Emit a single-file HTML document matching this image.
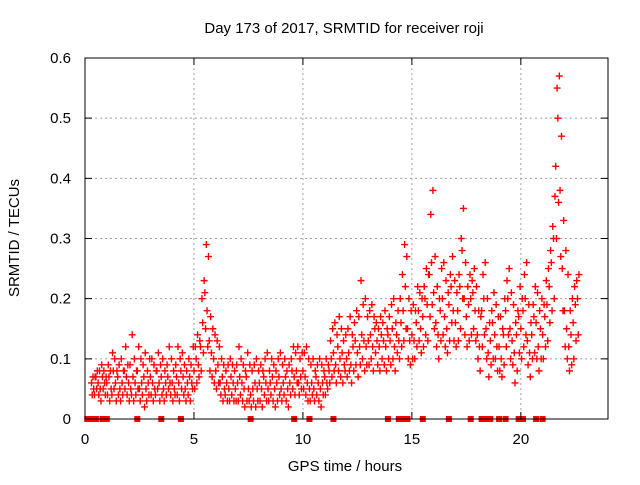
<!DOCTYPE html>
<html><head><meta charset="utf-8"><style>
body{margin:0;background:#fff}
svg text{font-family:"Liberation Sans",sans-serif;font-size:15px;fill:#000}
</style></head><body>
<svg id="chart" width="640" height="480" viewBox="0 0 640 480" xmlns="http://www.w3.org/2000/svg">
<rect width="640" height="480" fill="#fff"/>
<text x="344" y="33" text-anchor="middle">Day 173 of 2017, SRMTID for receiver roji</text>
<text transform="translate(19,238) rotate(-90)" text-anchor="middle">SRMTID / TECUs</text>
<text x="345" y="471" text-anchor="middle">GPS time / hours</text>
<g id="grid"></g><g id="marks"></g><g id="axes"></g>
</svg>
<script>
const xTicks=[0,5,10,15,20];
const yTicks=[0,0.1,0.2,0.3,0.4,0.5,0.6];
const yTickLabels=["0","0.1","0.2","0.3","0.4","0.5","0.6"];
const hours=[0,1,2,3,4,5,6,7,8,9,10,11,12,13,14,15,16,17,18,19,20,21,22];
const seriesA=[
[null,null,null,.06,.05,.07,.06,.05,.07,.06],[.06,.07,.05,.08,.06,.07,.05,.06,.08,.07],[.06,.05,.07,.06,.08,.05,.06,.07,.05,.06],
[.07,.06,.05,.08,.06,.07,.05,.06,.07,.06],[.06,.05,.07,.06,.08,.07,.05,.06,.07,.06],[.08,.1,.09,.12,.16,.21,.18,.13,.11,.1],
[.08,.09,.06,.07,.05,.06,.05,.07,.06,.05],[.06,.07,.06,.05,.07,.05,.04,.05,.06,.05],[.06,.05,.07,.06,.05,.06,.07,.05,.06,.07],
[.05,.06,.07,.05,.06,.08,.07,.08,.06,.07],[.08,.07,.06,.05,.06,.05,.07,.06,.05,.06],[.07,.06,.08,.1,.11,.09,.12,.1,.11,.09],
[.1,.11,.09,.12,.13,.11,.12,.14,.13,.12],[.13,.14,.12,.15,.13,.12,.14,.13,.12,.14],[.13,.15,.12,.14,.13,.16,.18,.22,.15,.13],
[.14,.13,.16,.18,.15,.17,.2,.19,.24,.26],[.21,.16,.14,.18,.2,.17,.15,.19,.22,.18],[.16,.18,.22,.28,.2,.17,.19,.2,.21,.18],
[.14,.12,.18,.2,.15,.11,.13,.16,.14,.12],[.12,.1,.14,.18,.2,.15,.13,.11,.14,.17],[.15,.18,.2,.13,.11,.14,.17,.16,.12,.15],
[.14,.17,.19,.22,.26,.3,.42,.5,.38,.25],[.18,.15,.12,.14,.16,.19,.2,null,null,null]];
const seriesB=[
[null,null,null,.04,.04,.05,.04,.03,.05,.04],[.04,.03,.04,.05,.03,.04,.03,.04,.05,.04],[.03,.04,.03,.04,.05,.03,.04,.02,.03,.04],
[.04,.03,.04,.05,.03,.04,.03,.04,.05,.04],[.03,.04,.04,.03,.05,.04,.03,.04,.03,.05],[.05,.06,.07,.08,.11,.15,.12,.08,.07,.06],
[.05,.06,.04,.03,.04,.03,.03,.04,.03,.03],[.03,.04,.03,.02,.03,.03,.02,.03,.02,.03],[.03,.02,.04,.03,.03,.04,.03,.02,.03,.04],
[.03,.04,.03,.02,.04,.05,.04,.06,.04,.05],[.05,.04,.03,.03,.04,.03,.04,.03,.02,.04],[.04,.05,.06,.07,.08,.06,.08,.07,.06,.08],
[.07,.08,.06,.08,.09,.07,.09,.1,.08,.09],[.09,.1,.08,.11,.09,.08,.1,.09,.08,.1],[.09,.1,.08,.11,.1,.12,.13,.15,.1,.09],
[.1,.1,.12,.13,.11,.12,.14,.13,.17,.19],[.15,.12,.1,.13,.14,.12,.11,.13,.16,.13],[.12,.13,.15,.2,.14,.12,.13,.14,.15,.13],
[.1,.08,.12,.14,.1,.07,.09,.1,.1,.08],[.08,.07,.09,.12,.14,.1,.09,.06,.08,.11],[.1,.12,.14,.09,.07,.1,.11,.1,.08,.1],
[.1,.12,.13,.16,.18,.2,.3,.36,.27,.18],[.12,.1,.08,.09,.1,.13,.14,null,null,null]];
const seriesC=[
[null,null,null,.07,.07,.08,.08,.09,.08,.07],[.09,.08,.11,.1,.08,.09,.1,.08,.12,.09],[.09,.14,.1,.08,.12,.1,.09,.11,.08,.1],
[.1,.09,.08,.11,.09,.1,.08,.09,.12,.1],[.08,.09,.12,.1,.11,.09,.08,.1,.09,.12],[.12,.14,.13,.2,.23,.29,.27,.17,.15,.14],
[.13,.12,.1,.09,.08,.09,.1,.09,.08,.09],[.12,.1,.09,.08,.11,.09,.08,.09,.1,.08],[.09,.08,.1,.11,.08,.1,.09,.08,.1,.11],
[.09,.1,.08,.09,.1,.12,.11,.12,.1,.11],[.11,.12,.1,.09,.1,.08,.09,.1,.09,.08],[.1,.09,.13,.15,.16,.14,.17,.15,.13,.14],
[.15,.17,.14,.16,.18,.17,.23,.19,.2,.17],[.18,.19,.17,.16,.15,.17,.16,.18,.15,.17],[.19,.2,.16,.18,.2,.24,.29,.27,.2,.18],
[.19,.18,.22,.21,.2,.22,.25,.24,.34,.38],[.27,.22,.2,.25,.26,.23,.21,.24,.27,.23],[.21,.24,.3,.35,.26,.22,.24,.23,.25,.22],
[.18,.17,.24,.26,.2,.16,.18,.21,.19,.17],[.17,.15,.2,.23,.25,.21,.19,.16,.18,.22],[.2,.24,.26,.19,.16,.19,.22,.21,.18,.2],
[.19,.23,.25,.28,.32,.37,.55,.57,.47,.33],[.28,.24,.18,.2,.22,.23,.24,null,null,null]];
const zeroTimes=[0.1,0.3,0.5,0.8,1.0,2.4,3.5,4.4,7.6,9.6,10.3,11.4,13.9,14.4,14.6,14.8,15.5,16.7,17.7,18.2,18.4,18.6,19.0,19.3,19.9,20.1,20.7,21.0];

const L=85,R=608,T=58,B=419;
const xs=t=>L+(t/24)*(R-L);
const ys=v=>B-(v/0.6)*(B-T);
const NS="http://www.w3.org/2000/svg";
function mk(tag,attrs,parent){const e=document.createElementNS(NS,tag);for(const k in attrs)e.setAttribute(k,attrs[k]);parent.appendChild(e);return e;}
const grid=document.getElementById('grid'),marks=document.getElementById('marks'),axes=document.getElementById('axes');
yTicks.forEach((v,i)=>{
  const y=ys(v);
  if(i>0&&i<yTicks.length-1){const g=mk('line',{x1:L,x2:R,y1:y,y2:y,stroke:'#a0a0a0','stroke-dasharray':'2,3'},grid);
  
  }
  const tk=mk('path',{d:`M${L},${y}h7M${R},${y}h-7`,stroke:'#000'},axes);
  
  
  const tx=mk('text',{x:L-14,y:y+5,'text-anchor':'end'},axes);tx.textContent=yTickLabels[i];
  
  
});
xTicks.forEach((t,i)=>{
  const x=xs(t);
  if(i>0){const g=mk('line',{x1:x,x2:x,y1:T,y2:B,stroke:'#a0a0a0','stroke-dasharray':'2,3'},grid);
  
  }
  const tk=mk('path',{d:`M${x},${B}v-7M${x},${T}v7`,stroke:'#000'},axes);
  
  
  const tx=mk('text',{x:x,y:B+25,'text-anchor':'middle'},axes);tx.textContent=String(t);
  
  
});
const frame=mk('rect',{x:L,y:T,width:R-L,height:B-T,fill:'none',stroke:'#000'},axes);


let d='';
[[seriesA,0],[seriesB,0.033],[seriesC,0.066]].forEach(([s,off])=>{
  s.forEach((row,h)=>row.forEach((v,i)=>{
    if(v===null)return;
    const x=xs(hours[h]+i*0.1+off),y=ys(v);
    d+=`M${x-3.5},${y}h7M${x},${y-3.5}v7`;
  }));
});
const pts=mk('path',{d:d,stroke:'#ff0000','stroke-width':1.4,fill:'none'},marks);


zeroTimes.forEach(t=>{
  const r=mk('rect',{x:xs(t)-3,y:B-3,width:6,height:6,fill:'#ff0000'},marks);
  
  
});
</script>
</body></html>
